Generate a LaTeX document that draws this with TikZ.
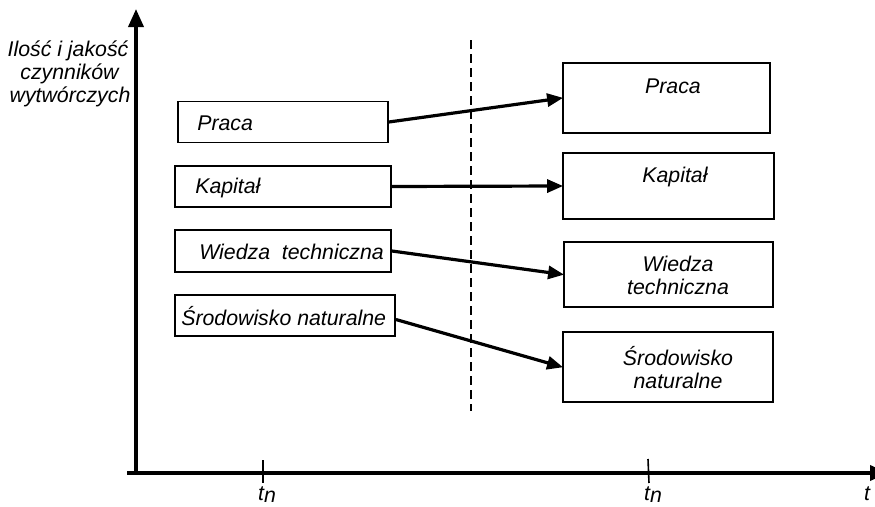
\documentclass[tikz,border=0pt]{standalone}
\usepackage{fontspec}
\setmainfont{Liberation Sans}
\usetikzlibrary{arrows.meta,calc}
\begin{document}
\begin{tikzpicture}[x=1pt,y=-1pt,
  every node/.style={font=\fontsize{21.3}{23}\selectfont\itshape},
  box/.style={draw,line width=1.8pt,inner sep=0pt,minimum width=#1},
  lbl/.style={inner sep=0pt,anchor=west},
  clbl/.style={inner sep=0pt,align=center},
  axis/.style={line width=3.6pt,-{Triangle[length=18pt,width=15pt]}},
  link/.style={line width=3.2pt,-{Triangle[length=16pt,width=13pt]},shorten >=-1pt},
  tick/.style={line width=1.6pt},
  divider/.style={line width=2.5pt,dash pattern=on 9pt off 5pt}]
\useasboundingbox (0,0) rectangle (875,506);

% axes
\coordinate (O) at (136,473);
\coordinate (xs) at (127,473);
\coordinate (ytip) at (136,9);
\coordinate (xtip) at (888,473);
\draw[axis] (O) -- (ytip);
\draw[axis] (xs) -- (xtip);

% ticks on the time axis
\coordinate (t1a) at (263,460); \coordinate (t1b) at (263,483);
\coordinate (t2a) at (648,459); \coordinate (t2b) at (649,483);
\draw[tick] (t1a) -- (t1b);
\draw[tick] (t2a) -- (t2b);
\node[inner sep=0pt] (tA) at (267,495) {t\raisebox{-2pt}{n}};
\node[inner sep=0pt] (tB) at (653,495) {t\raisebox{-2pt}{n}};
\node[inner sep=0pt] (tT) at (867,494) {t};

% vertical axis title
\node[clbl] (ytitle) at (68,74) {Ilość i jakość\\\hspace*{3pt}czynników\\\hspace*{4pt}wytwórczych};

% dividing moment
\coordinate (dTop) at (471,40);
\coordinate (dBot) at (471,411);
\draw[divider] (dTop) -- (dBot);

% factors at the start
\node[box=210pt,minimum height=41pt] (lP) at (283,122) {};
\node[box=216pt,minimum height=41pt] (lK) at (283,186.5) {};
\node[box=216pt,minimum height=42pt] (lW) at (283,251) {};
\node[box=220pt,minimum height=41pt] (lS) at (285,315.5) {};
\node[lbl] (lPt) at ($(lP.west)+(20,1)$) {Praca};
\node[lbl] (lKt) at ($(lK.west)+(21,1)$) {Kapitał};
\node[lbl] (lWt) at ($(lW.west)+(25,1)$) {Wiedza\ \ techniczna};
\node[lbl] (lSt) at ($(lS.west)+(7,1)$) {Środowisko naturalne};

% factors at the end
\node[box=207pt,minimum height=70pt] (rP) at (666.5,98) {};
\node[box=211pt,minimum height=66pt] (rK) at (668.5,186) {};
\node[box=209pt,minimum height=65pt] (rW) at (668.5,274.5) {};
\node[box=210pt,minimum height=70pt] (rS) at (668,367) {};
\node[clbl] (rPt) at (673,86) {Praca};
\node[clbl] (rKt) at (675,177) {Kapitał};
\node[clbl] (rWt) at (678,275.5) {Wiedza\\techniczna};
\node[clbl] (rSt) at (678,367.5) {Środowisko\\naturalne};

% change of each factor
\draw[link] (lP.east) -- (rP.west);
\draw[link] (lK.east) -- (rK.west);
\draw[link] (lW.east) -- (rW.west);
\draw[link] ($(lS.east)+(0,4)$) -- (rS.west);
\end{tikzpicture}
\end{document}
